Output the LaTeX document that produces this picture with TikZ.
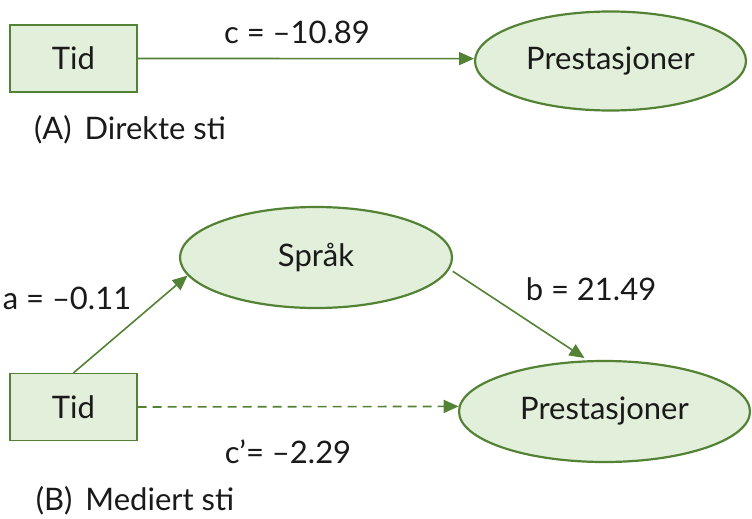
\documentclass[tikz,border=0pt]{standalone}
\usepackage{fontspec}
\setmainfont{Lato}
\usepackage{tikz}
\usetikzlibrary{arrows.meta,shapes.geometric}
\definecolor{stigreen}{HTML}{548235}
\definecolor{stifill}{HTML}{E2EFDA}
\definecolor{stitext}{HTML}{1A1A1A}

\tikzset{
    varbox/.style={draw=stigreen, fill=stifill, line width=1.3pt, minimum width=127pt, minimum height=67pt, inner sep=0pt},
    varoval/.style={ellipse, draw=stigreen, fill=stifill, line width=2.2pt, inner sep=0pt},
    sti/.style={draw=stigreen, line width=1.6pt, -{Triangle[length=15pt,width=13pt]}},
    lbl/.style={text=stitext, inner sep=0pt}
}

\begin{document}
\begin{tikzpicture}[x=1pt, y=-1pt, every node/.style={font=\fontsize{31}{36}\selectfont, text=stitext}]
        \useasboundingbox (0, 0) rectangle (752, 519);

        % (A) direkte sti
        \node[varbox] (tidA) at (73.5, 58.5) {Tid};
        \node[varoval, minimum width=271pt, minimum height=99pt] (prestA) at (610.5, 61) {Prestasjoner};
        \draw[sti] (tidA.east) -- (prestA.179);
        \node[lbl] (cA) at (297, 32) {c = –10.89};
        \node[lbl] (titA) at (130, 130) {(A)\, Direkte sti};

        % (B) mediert sti
        \node[varoval, minimum width=272pt, minimum height=101pt] (sprak) at (316, 257.5) {Språk};
        \node[varbox] (tidB) at (73.5, 407) {Tid};
        \node[varoval, minimum width=291pt, minimum height=101pt] (prestB) at (604.5, 411.5) {Prestasjoner};
        \draw[sti] (tidB.north) -- (sprak.188);
        \draw[sti, shorten <=4pt, shorten >=4pt] (sprak.-5) -- (prestB.108);
        \draw[sti, dashed, dash pattern=on 9pt off 6pt] (tidB.east) -- (prestB.178);
        \node[lbl] (aB) at (67, 298) {a = –0.11};
        \node[lbl] (bB) at (591, 289) {b = 21.49};
        \node[lbl] (cB) at (288, 452) {c’= –2.29};
        \node[lbl] (titB) at (135, 501) {(B)\, Mediert sti};
    \end{tikzpicture}
\end{document}
